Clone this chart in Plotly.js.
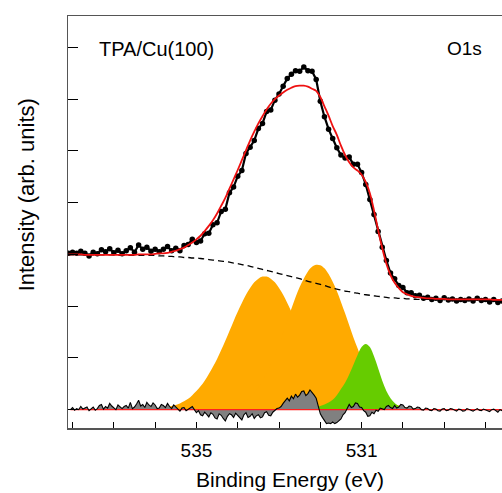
<!DOCTYPE html>
<html>
<head>
<meta charset="utf-8">
<script src="https://cdn.plot.ly/plotly-3.0.1.min.js"></script>
<style>html,body{margin:0;padding:0;background:#fff;}#chart{width:502px;height:493px;}</style>
</head>
<body>
<div id="chart"></div>
<script>
// Binding energy grid (eV) for spectrum, fit and components
const energy = [538.1,538.0,537.9,537.8,537.7,537.6,537.5,537.4,537.3,537.2,
537.1,537.0,536.9,536.8,536.7,536.6,536.5,536.4,536.3,536.2,
536.1,536.0,535.9,535.8,535.7,535.6,535.5,535.4,535.3,535.2,
535.1,535.0,534.9,534.8,534.7,534.6,534.5,534.4,534.3,534.2,
534.1,534.0,533.9,533.8,533.7,533.6,533.5,533.4,533.3,533.2,
533.1,533.0,532.9,532.8,532.7,532.6,532.5,532.4,532.3,532.2,
532.1,532.0,531.9,531.8,531.7,531.6,531.5,531.4,531.3,531.2,
531.1,531.0,530.9,530.8,530.7,530.6,530.5,530.4,530.3,530.2,
530.1,530.0,529.9,529.8,529.7,529.6,529.5,529.4,529.3,529.2,
529.1,529.0,528.9,528.8,528.7,528.6,528.5,528.4,528.3,528.2,
528.1,528.0,527.9,527.8,527.7,527.6];

// Measured O1s intensity (dots)
const measured = [3.02,3.04,3.02,3.06,3.02,2.97,3.04,3.01,3.09,3.05,
3.11,3.03,3.08,3.01,3.07,3.13,3.04,3.18,3.10,3.14,
3.06,3.10,3.05,3.10,3.15,3.07,3.12,3.07,3.17,3.19,
3.29,3.23,3.26,3.40,3.41,3.57,3.61,3.83,3.87,4.19,
4.30,4.51,4.62,4.95,5.07,5.20,5.43,5.53,5.76,5.79,
5.98,6.10,6.25,6.40,6.48,6.55,6.54,6.62,6.55,6.54,
6.38,5.96,5.66,5.42,5.24,5.06,4.92,4.86,4.88,4.74,
4.74,4.58,4.35,4.06,3.77,3.44,3.14,2.88,2.64,2.53,
2.40,2.36,2.26,2.26,2.20,2.21,2.15,2.17,2.13,2.15,
2.11,2.16,2.12,2.14,2.10,2.13,2.11,2.14,2.10,2.15,
2.11,2.13,2.08,2.13,2.07,2.10];

// Fit envelope (red)
const fitEnvelope = [3.00,3.00,3.00,3.00,2.99,2.99,2.99,2.99,2.99,2.99,
2.99,2.99,2.99,2.99,2.99,2.99,2.99,3.00,3.00,3.00,
3.00,3.01,3.02,3.02,3.03,3.05,3.07,3.10,3.13,3.18,
3.23,3.29,3.36,3.45,3.55,3.66,3.79,3.94,4.09,4.27,
4.45,4.63,4.82,5.01,5.20,5.37,5.53,5.67,5.80,5.91,
6.00,6.07,6.13,6.18,6.22,6.25,6.26,6.26,6.24,6.20,
6.16,6.04,5.86,5.68,5.48,5.31,5.10,4.92,4.78,4.68,
4.62,4.54,4.40,4.18,3.85,3.47,3.12,2.82,2.60,2.45,
2.35,2.27,2.23,2.20,2.18,2.17,2.16,2.15,2.15,2.14,
2.14,2.14,2.13,2.13,2.13,2.13,2.13,2.13,2.13,2.13,
2.13,2.13,2.13,2.12,2.12,2.12];

// Background (dashed)
const background = [2.99,2.99,2.99,2.99,2.99,2.99,2.99,2.99,2.99,2.99,
2.99,2.99,2.98,2.98,2.98,2.98,2.98,2.98,2.98,2.98,
2.98,2.98,2.97,2.97,2.96,2.96,2.95,2.95,2.94,2.94,
2.93,2.93,2.92,2.91,2.90,2.89,2.88,2.87,2.86,2.85,
2.83,2.82,2.80,2.79,2.77,2.75,2.73,2.71,2.69,2.67,
2.65,2.63,2.61,2.59,2.57,2.55,2.53,2.50,2.48,2.46,
2.44,2.42,2.40,2.37,2.35,2.33,2.31,2.29,2.28,2.26,
2.25,2.23,2.22,2.21,2.20,2.19,2.18,2.17,2.16,2.16,
2.15,2.15,2.14,2.14,2.13,2.13,2.13,2.13,2.13,2.13,
2.13,2.13,2.13,2.13,2.13,2.13,2.13,2.13,2.13,2.13,
2.13,2.13,2.12,2.12,2.12,2.12];

// Component 1 (orange, ~533.35 eV)
const peakHigh = [0,0,0,0,0,0,0,0,0,0,
0,0,0,0,0,0,0,0,0,0,
0.01,0.02,0.02,0.03,0.05,0.07,0.09,0.12,0.16,0.21,
0.28,0.36,0.45,0.56,0.69,0.83,0.98,1.15,1.33,1.52,
1.71,1.89,2.06,2.22,2.35,2.46,2.53,2.57,2.57,2.53,
2.46,2.35,2.22,2.06,1.89,1.71,1.52,1.33,1.15,0.98,
0.83,0.69,0.56,0.45,0.36,0.28,0.21,0.16,0.12,0.09,
0.07,0.05,0.03,0.02,0.02,0.01,0,0,0,0,
0,0,0,0,0,0,0,0,0,0,
0,0,0,0,0,0,0,0,0,0,
0,0,0,0,0,0];

// Component 2 (orange, ~532.07 eV)
const peakMid = [0,0,0,0,0,0,0,0,0,0,
0,0,0,0,0,0,0,0,0,0,
0,0,0,0,0,0,0,0,0,0,
0,0,0,0,0,0,0.01,0.02,0.03,0.04,
0.07,0.09,0.13,0.18,0.25,0.33,0.43,0.56,0.70,0.87,
1.06,1.27,1.49,1.72,1.95,2.17,2.37,2.53,2.67,2.76,
2.80,2.79,2.73,2.62,2.47,2.29,2.08,1.86,1.63,1.40,
1.19,0.98,0.80,0.64,0.50,0.39,0.29,0.22,0.16,0.11,
0.08,0.06,0.04,0.03,0.02,0.01,0,0,0,0,
0,0,0,0,0,0,0,0,0,0,
0,0,0,0,0,0];

// Component 3 (green, ~530.9 eV)
const peakLow = [0,0,0,0,0,0,0,0,0,0,
0,0,0,0,0,0,0,0,0,0,
0,0,0,0,0,0,0,0,0,0,
0,0,0,0,0,0,0,0,0,0,
0,0,0,0,0,0,0,0,0,0,
0,0,0,0,0,0,0,0.01,0.02,0.03,
0.05,0.07,0.10,0.14,0.19,0.28,0.40,0.52,0.68,0.86,
1.05,1.21,1.27,1.21,1.03,0.80,0.56,0.36,0.22,0.13,
0.07,0.04,0.02,0.01,0,0,0,0,0,0,
0,0,0,0,0,0,0,0,0,0,
0,0,0,0,0,0];

// Residual (data - fit), finer energy grid
const residualEnergy = [538.05,538.00,537.95,537.90,537.85,537.80,537.75,537.70,537.65,537.60,
537.55,537.50,537.45,537.40,537.35,537.30,537.25,537.20,537.15,537.10,
537.05,537.00,536.95,536.90,536.85,536.80,536.75,536.70,536.65,536.60,
536.55,536.50,536.45,536.40,536.35,536.30,536.25,536.20,536.15,536.10,
536.05,536.00,535.95,535.90,535.85,535.80,535.75,535.70,535.65,535.60,
535.55,535.50,535.45,535.40,535.35,535.30,535.25,535.20,535.15,535.10,
535.05,535.00,534.95,534.90,534.85,534.80,534.75,534.70,534.65,534.60,
534.55,534.50,534.45,534.40,534.35,534.30,534.25,534.20,534.15,534.10,
534.05,534.00,533.95,533.90,533.85,533.80,533.75,533.70,533.65,533.60,
533.55,533.50,533.45,533.40,533.35,533.30,533.25,533.20,533.15,533.10,
533.05,533.00,532.95,532.90,532.85,532.80,532.75,532.70,532.65,532.60,
532.55,532.50,532.45,532.40,532.35,532.30,532.25,532.20,532.15,532.10,
532.05,532.00,531.95,531.90,531.85,531.80,531.75,531.70,531.65,531.60,
531.55,531.50,531.45,531.40,531.35,531.30,531.25,531.20,531.15,531.10,
531.05,531.00,530.95,530.90,530.85,530.80,530.75,530.70,530.65,530.60,
530.55,530.50,530.45,530.40,530.35,530.30,530.25,530.20,530.15,530.10,
530.05,530.00,529.95,529.90,529.85,529.80,529.75,529.70,529.65,529.60,
529.55,529.50,529.45,529.40,529.35,529.30,529.25,529.20,529.15,529.10,
529.05,529.00,528.95,528.90,528.85,528.80,528.75,528.70,528.65,528.60,
528.55,528.50,528.45,528.40,528.35,528.30,528.25,528.20,528.15,528.10,
528.05,528.00,527.95,527.90,527.85,527.80,527.75,527.70,527.65,527.60];

const residual = [0.00,0.04,-0.01,0.02,0.00,0.06,0.01,0.03,0.05,-0.02,
0.01,0.05,-0.01,0.02,0.08,0.10,0.01,0.06,0.03,0.12,
0.07,0.04,0.00,0.09,0.05,0.02,0.06,0.08,0.03,0.14,
0.02,0.05,0.11,0.18,0.07,0.10,0.04,0.14,0.09,0.06,
0.13,0.09,0.02,0.03,0.10,0.08,0.04,0.12,0.06,0.02,
0.09,0.05,0.01,-0.03,0.03,0.04,-0.02,0.01,0.03,0.06,
0.00,-0.06,-0.02,-0.10,-0.12,-0.05,-0.09,-0.14,-0.06,-0.09,
-0.16,-0.18,-0.08,-0.11,-0.17,-0.22,-0.13,-0.08,-0.10,-0.15,
-0.07,-0.12,-0.16,-0.20,-0.10,-0.06,-0.15,-0.13,-0.08,-0.17,
-0.12,-0.10,-0.16,-0.14,-0.06,-0.04,-0.11,-0.12,-0.05,-0.02,
0.02,0.03,0.06,0.12,0.18,0.22,0.17,0.26,0.21,0.30,
0.24,0.28,0.35,0.36,0.27,0.31,0.38,0.34,0.28,0.22,
0.05,-0.08,-0.15,-0.20,-0.27,-0.26,-0.27,-0.24,-0.27,-0.25,
-0.22,-0.18,-0.10,-0.06,0.02,0.10,0.04,0.06,0.13,0.12,
0.05,0.04,-0.02,-0.05,-0.13,-0.12,-0.05,-0.08,-0.01,-0.03,
0.03,0.02,0.00,0.06,0.08,0.04,0.02,0.08,0.03,0.05,
0.10,0.09,0.04,0.03,0.07,0.06,0.01,0.02,0.05,0.04,
0.00,-0.01,0.03,0.02,-0.01,-0.02,0.02,0.01,-0.02,-0.03,
0.01,0.02,-0.02,-0.01,0.02,0.01,-0.01,-0.03,0.01,0.00,
-0.03,-0.02,0.02,0.01,-0.01,-0.03,0.00,0.02,-0.01,-0.02,
0.01,0.00,-0.02,-0.04,0.00,0.01,-0.03,-0.05,0.00,-0.02];

const xTickVals = [538,537,536,535,534,533,532,531,530,529,528];
const xTickText = ['','','','535','','','','531','','',''];
const yTickVals = [0,1,2,3,4,5,6,7];

const FONT = 'Liberation Sans, Arial, Helvetica, sans-serif';
const ORANGE = '#FFAA00';
const GREEN = '#66CC00';

const traces = [
  {x: energy, y: peakHigh, type: 'scatter', mode: 'lines', fill: 'tozeroy',
   fillcolor: ORANGE, line: {width: 0, color: ORANGE, shape: 'spline'}},
  {x: energy, y: peakMid, type: 'scatter', mode: 'lines', fill: 'tozeroy',
   fillcolor: ORANGE, line: {width: 0, color: ORANGE, shape: 'spline'}},
  {x: energy, y: peakLow, type: 'scatter', mode: 'lines', fill: 'tozeroy',
   fillcolor: GREEN, line: {width: 0, color: GREEN, shape: 'spline'}},
  {x: residualEnergy, y: residual, type: 'scatter', mode: 'lines', fill: 'tozeroy',
   fillcolor: '#808080', line: {width: 0, color: '#808080'}},
  {x: [residualEnergy[0], residualEnergy[residualEnergy.length - 1]], y: [0, 0], type: 'scatter', mode: 'lines',
   line: {width: 1.2, color: '#ff2020'}},
  {x: residualEnergy, y: residual, type: 'scatter', mode: 'lines',
   line: {width: 1.1, color: '#000'}},
  {x: energy, y: background, type: 'scatter', mode: 'lines',
   line: {width: 1.3, color: '#000', dash: '6px,4px', shape: 'spline'}},
  {x: energy, y: measured, type: 'scatter', mode: 'lines+markers',
   line: {width: 2.2, color: '#000'},
   marker: {size: 5.5, color: '#000'}},
  {x: energy, y: fitEnvelope, type: 'scatter', mode: 'lines',
   line: {width: 1.8, color: '#ee1111', shape: 'spline'}}
];

const layout = {
  width: 502, height: 493,
  margin: {l: 68, r: 0, t: 16, b: 65, pad: 0},
  paper_bgcolor: '#fff', plot_bgcolor: '#fff',
  showlegend: false, hovermode: false,
  font: {family: FONT, color: '#000'},
  xaxis: {
    range: [538.11, 527.6], showgrid: false, zeroline: false,
    showline: true, linecolor: '#555', linewidth: 1.5, mirror: true,
    ticks: 'inside', ticklen: 6, tickwidth: 1, tickcolor: '#000',
    tickmode: 'array', tickvals: xTickVals, ticktext: xTickText,
    tickfont: {size: 19, family: FONT, color: '#000'}, ticklabelstandoff: 5
  },
  yaxis: {
    range: [-0.355, 7.606], showgrid: false, zeroline: false,
    showline: true, linecolor: '#555', linewidth: 1.5, mirror: false,
    ticks: 'inside', ticklen: 10, tickwidth: 1, tickcolor: '#000',
    tickmode: 'array', tickvals: yTickVals, showticklabels: false
  },
  annotations: [
    {text: 'Binding Energy (eV)', xref: 'paper', yref: 'paper', x: 0.5115, y: -0.124,
     xanchor: 'center', yanchor: 'middle', showarrow: false, font: {size: 21, family: FONT, color: '#000'}},
    {text: 'Intensity (arb. units)', xref: 'paper', yref: 'paper', x: -0.096, y: 0.5655,
     xanchor: 'center', yanchor: 'middle', textangle: -90, showarrow: false, font: {size: 22, family: FONT, color: '#000'}},
    {text: 'TPA/Cu(100)', xref: 'paper', yref: 'paper', x: 0.066, y: 0.92,
     xanchor: 'left', yanchor: 'middle', showarrow: false, font: {size: 20, family: FONT, color: '#000'}},
    {text: 'O1s', xref: 'paper', yref: 'paper', x: 0.959, y: 0.92,
     xanchor: 'right', yanchor: 'middle', showarrow: false, font: {size: 19, family: FONT, color: '#000'}}
  ]
};

Plotly.newPlot('chart', traces, layout, {displayModeBar: false, staticPlot: true});
</script>
</body>
</html>
